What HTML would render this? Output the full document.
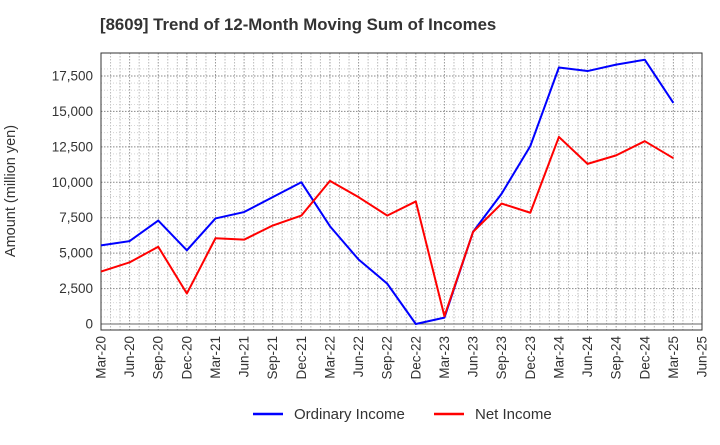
<!DOCTYPE html>
<html><head><meta charset="utf-8"><style>
body{margin:0;background:#fff;font-family:"Liberation Sans",sans-serif}
svg text{font-family:"Liberation Sans",sans-serif}
</style></head><body>
<svg id="c" width="720" height="440">
<text x="100" y="30" font-size="16.8" font-weight="bold" fill="#333">[8609]  Trend of 12-Month Moving Sum of Incomes</text>
<text transform="translate(15,191) rotate(-90)" text-anchor="middle" font-size="14.5" fill="#333">Amount (million yen)</text>
<g id="grid"></g><g id="axes"></g><g id="series"></g>
<g>
<line x1="253" y1="414" x2="283" y2="414" stroke="#0000ff" stroke-width="2.5"/>
<text x="294" y="419" font-size="15" fill="#333">Ordinary Income</text>
<line x1="434" y1="414" x2="464" y2="414" stroke="#ff0000" stroke-width="2.5"/>
<text x="475" y="419" font-size="15" fill="#333">Net Income</text>
</g>
</svg>
<script>
const categories=["Mar-20","Jun-20","Sep-20","Dec-20","Mar-21","Jun-21","Sep-21","Dec-21","Mar-22","Jun-22","Sep-22","Dec-22","Mar-23","Jun-23","Sep-23","Dec-23","Mar-24","Jun-24","Sep-24","Dec-24","Mar-25","Jun-25"];
const ordinaryIncome=[5550,5850,7300,5200,7450,7900,8950,10000,6900,4550,2850,0,450,6500,9200,12550,18100,17850,18300,18650,15600];
const netIncome=[3700,4350,5450,2150,6050,5950,6950,7650,10100,8950,7650,8650,550,6500,8500,7850,13200,11300,11900,12900,11700];
const yTicks=[0,2500,5000,7500,10000,12500,15000,17500];
const L=101,R=702,T=53,B=330,Y0=324,Y1=76;
const ns="http://www.w3.org/2000/svg";
function xs(i){return L+i*(R-L)/(categories.length-1);}
function ys(v){return Y0-(v/17500)*(Y0-Y1);}
function mk(tag,attrs,parent){const e=document.createElementNS(ns,tag);for(const k in attrs)e.setAttribute(k,attrs[k]);parent.appendChild(e);return e;}
const grid=document.getElementById('grid'),axes=document.getElementById('axes'),series=document.getElementById('series');
for(let i=0;i<(categories.length-1)*3;i++){const x=L+i*(R-L)/((categories.length-1)*3);
 const l=mk('line',{x1:x,x2:x,y1:T,y2:B,stroke:i%3?'#bbb':'#999','stroke-dasharray':'1.5,1.5','stroke-width':1},grid);
 
 }
for(let v=500;v<18500;v+=500){if(v%2500===0)continue;const y=ys(v);if(y<T)break;
 const l=mk('line',{x1:L,x2:R,y1:y,y2:y,stroke:'#ccc','stroke-dasharray':'1,2','stroke-width':0.8},grid);
 
 }
yTicks.forEach(v=>{const y=ys(v);
 const l=mk('line',{x1:L,x2:R,y1:y,y2:y,stroke:v===0?'#666':'#888','stroke-dasharray':v===0?'':'1.5,1.5','stroke-width':1},grid);
 
 
 const t=mk('text',{x:L-8,y:y+4.5,'text-anchor':'end','font-size':13.5,fill:'#333'},axes);t.textContent=v.toLocaleString('en-US');
 
 });
const fr=mk('rect',{x:L,y:T,width:R-L,height:B-T,fill:'none',stroke:'#333','stroke-width':1},axes);


categories.forEach((c,i)=>{const x=xs(i);
 const t=mk('text',{transform:`translate(${x+4.5},336) rotate(-90)`,'text-anchor':'end','font-size':13.5,fill:'#333'},axes);t.textContent=c;
 
 });
function line(data,color,name){const p=mk('polyline',{points:data.map((v,i)=>xs(i)+','+ys(v)).join(' '),fill:'none',stroke:color,'stroke-width':2,'stroke-linejoin':'round'},series);
 
 }
line(ordinaryIncome,'#0000ff','ordinary-income-line');
line(netIncome,'#ff0000','net-income-line');
</script>
</body></html>
